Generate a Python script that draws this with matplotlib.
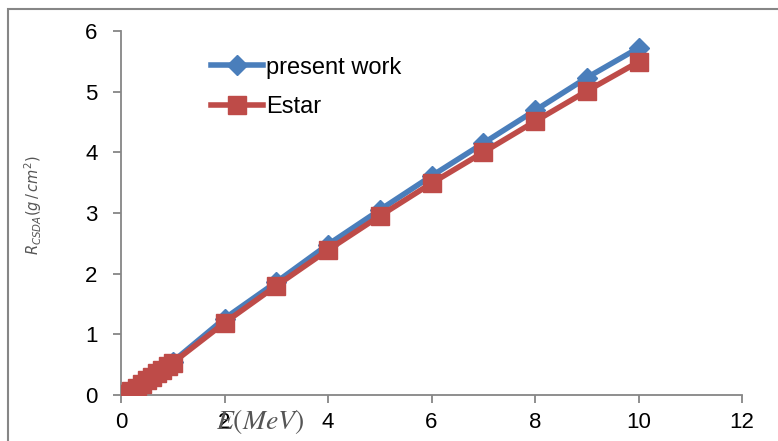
import matplotlib
matplotlib.use("Agg")
import matplotlib.pyplot as plt
from matplotlib.patches import Rectangle

energy = [0.01, 0.02, 0.03, 0.04, 0.05, 0.06, 0.08, 0.1, 0.2, 0.3, 0.4, 0.5,
          0.6, 0.7, 0.8, 0.9, 1, 2, 3, 4, 5, 6, 7, 8, 9, 10]
present_work = [0.0003, 0.001, 0.002, 0.004, 0.006, 0.008, 0.013, 0.02, 0.066,
                0.122, 0.182, 0.243, 0.305, 0.367, 0.43, 0.49, 0.55,
                1.26, 1.86, 2.48, 3.05, 3.61, 4.15, 4.69, 5.23, 5.72]
estar = [0.0003, 0.001, 0.002, 0.004, 0.006, 0.008, 0.013, 0.019, 0.064,
         0.12, 0.18, 0.24, 0.3, 0.36, 0.42, 0.48, 0.53,
         1.19, 1.80, 2.39, 2.95, 3.49, 4.0, 4.51, 5.01, 5.49]
xticks = [0, 2, 4, 6, 8, 10, 12]
yticks = [0, 1, 2, 3, 4, 5, 6]

W, H = 778, 441
fig = plt.figure(figsize=(W / 100, H / 100), dpi=100)
ax = fig.add_axes([121 / W, 1 - 395 / H, (742 - 121) / W, (395 - 31) / H])

blue = '#4a7ebb'
red = '#be4b48'
ax.plot(energy, present_work, color=blue, lw=4, marker='D', ms=10,
        mec=blue, mfc=blue, label='present work', zorder=3)
ax.plot(energy, estar, color=red, lw=4, marker='s', ms=13.5,
        mec=red, mfc=red, label='Estar', zorder=4)

ax.set_xlim(0, 12)
ax.set_ylim(0, 6)
ax.set_xticks(xticks)
ax.set_yticks(yticks)
for s in ['top', 'right']:
    ax.spines[s].set_visible(False)
for s in ['left', 'bottom']:
    ax.spines[s].set_color('#868686')
    ax.spines[s].set_linewidth(1.3)
ax.tick_params(axis='both', direction='out', length=6, width=1.3,
               color='#868686', labelsize=16, labelcolor='black')
ax.tick_params(axis='y', pad=11)
ax.tick_params(axis='x', pad=6)
for lab in ax.get_xticklabels() + ax.get_yticklabels():
    lab.set_fontfamily('Liberation Sans')

leg = ax.legend(loc='upper left', bbox_to_anchor=(0.118, 0.975), frameon=False,
                prop={'family': 'Liberation Sans', 'size': 17},
                handlelength=2.2, handletextpad=0.15, labelspacing=0.75,
                borderaxespad=0.3)

fig.text(260 / W, 1 - 421 / H, r'$E(MeV)$', ha='center', va='center',
         fontsize=20, color='#555555', math_fontfamily='stix')
fig.text(33 / W, 1 - 205 / H, r'$R_{CSDA}(g\,/\,cm^2)$', ha='center',
         va='center', rotation=90, fontsize=10.5, color='#555555')

fig.patches.append(Rectangle((8 / W, -0.2), 1.5, 1 - 9 / H + 0.2,
                             transform=fig.transFigure, fill=False,
                             edgecolor='#868686', lw=1.5))

fig.savefig('out.png', dpi=100)
